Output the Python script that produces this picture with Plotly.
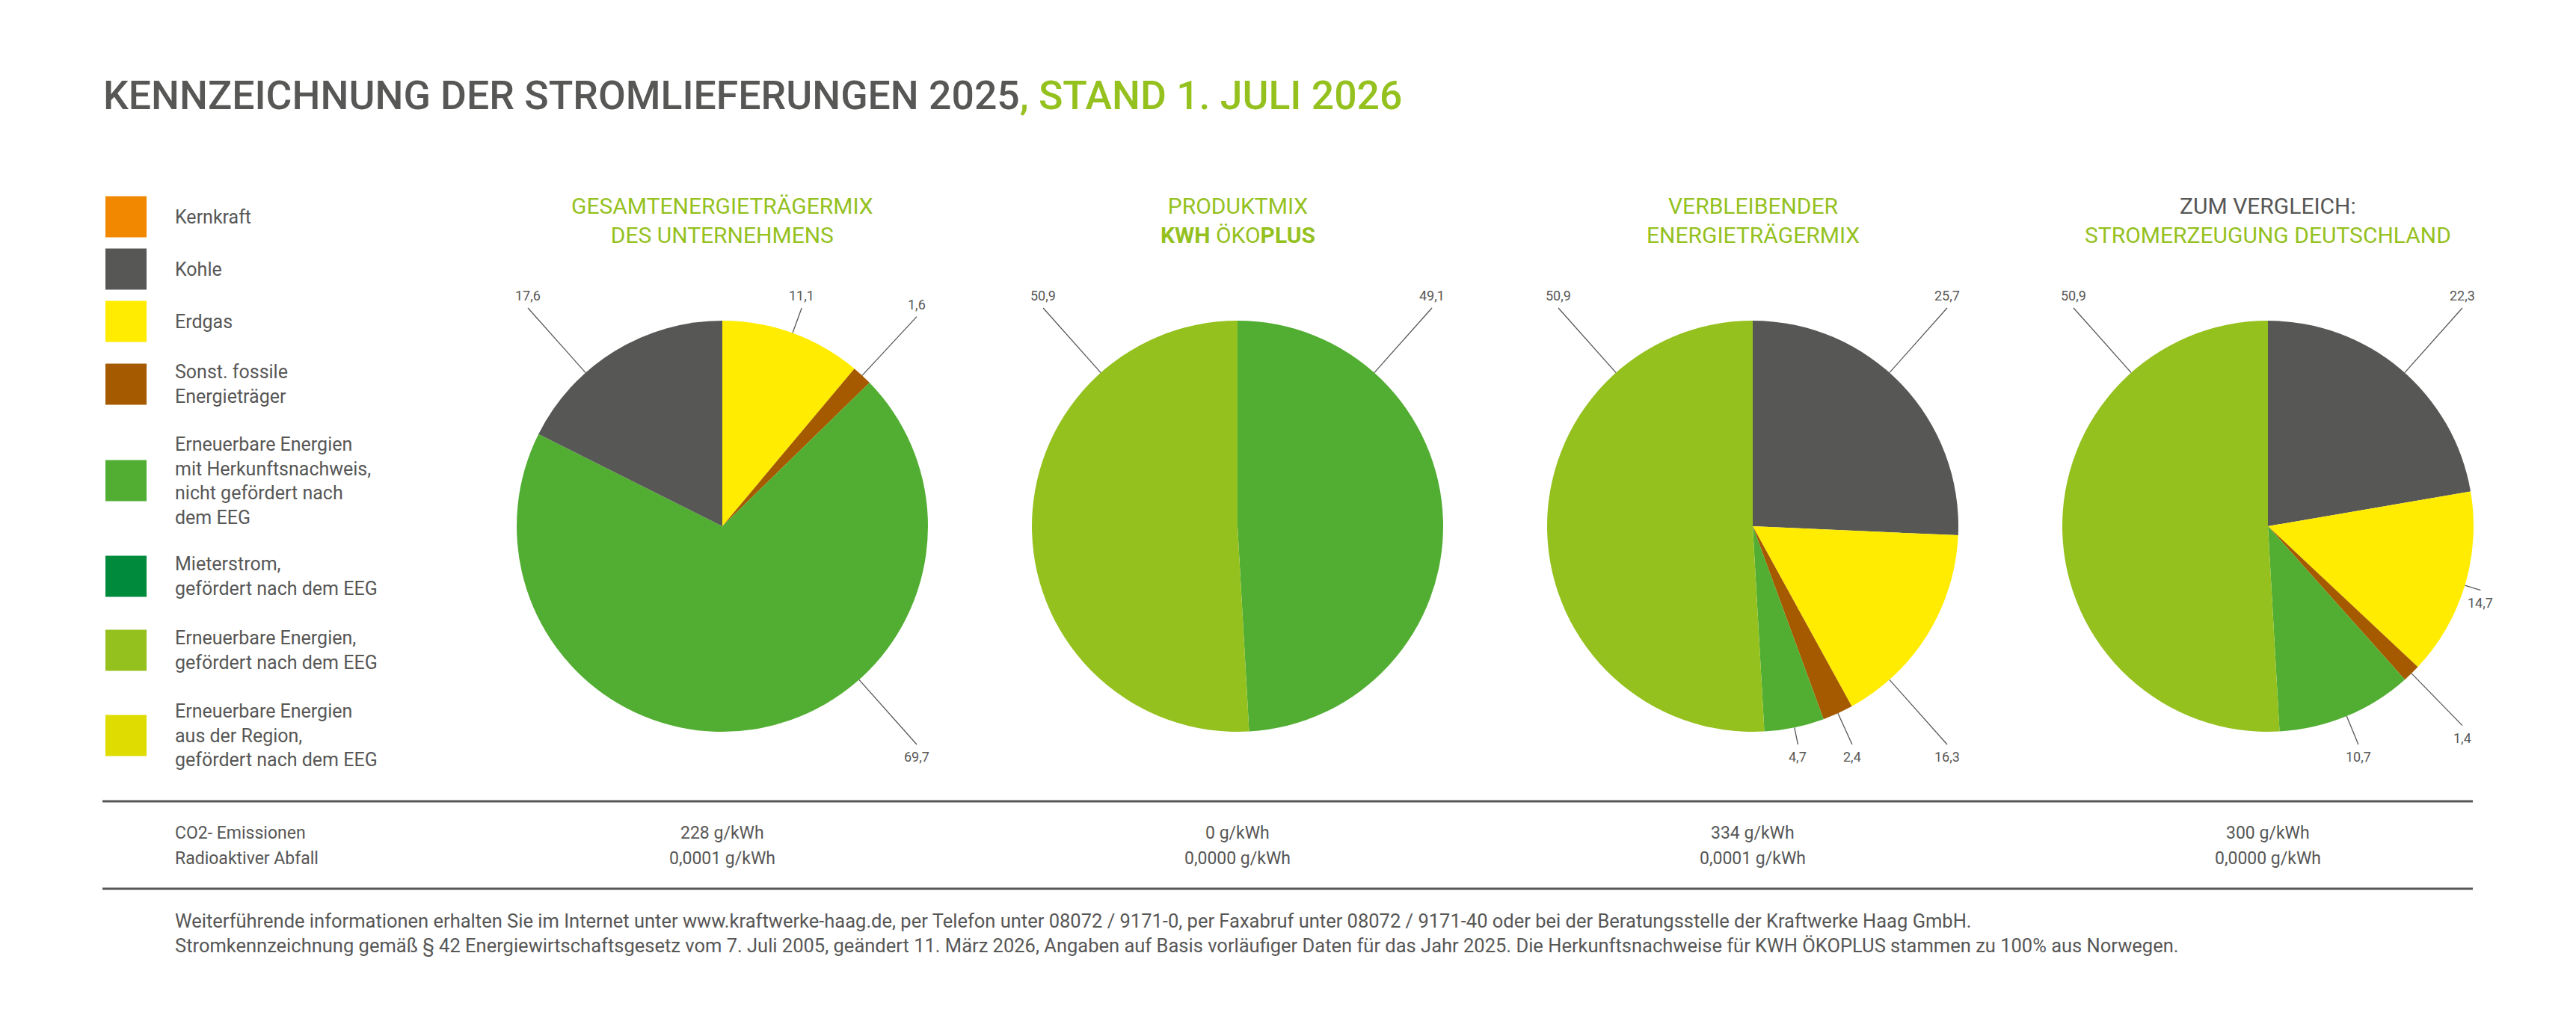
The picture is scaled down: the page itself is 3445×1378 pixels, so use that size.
import math

import plotly.graph_objects as go

W, H = 3445, 1378
OFF = 8  # default page margin of the html body

# ---- data -------------------------------------------------------------
CATEGORIES = [
    "Kernkraft",
    "Kohle",
    "Erdgas",
    "Sonst. fossile Energieträger",
    "Erneuerbare Energien mit Herkunftsnachweis, nicht gefördert nach dem EEG",
    "Mieterstrom, gefördert nach dem EEG",
    "Erneuerbare Energien, gefördert nach dem EEG",
    "Erneuerbare Energien aus der Region, gefördert nach dem EEG",
]
LEGEND_TEXT = [
    "Kernkraft",
    "Kohle",
    "Erdgas",
    "Sonst. fossile<br>Energieträger",
    "Erneuerbare Energien<br>mit Herkunftsnachweis,<br>nicht gefördert nach<br>dem EEG",
    "Mieterstrom,<br>gefördert nach dem EEG",
    "Erneuerbare Energien,<br>gefördert nach dem EEG",
    "Erneuerbare Energien<br>aus der Region,<br>gefördert nach dem EEG",
]

# slices in drawing order (clockwise from 12 o'clock)
GESAMT_LABELS = [CATEGORIES[2], CATEGORIES[3], CATEGORIES[4], CATEGORIES[1]]
GESAMT_VALUES = [11.1, 1.6, 69.7, 17.6]

PRODUKT_LABELS = [CATEGORIES[4], CATEGORIES[6]]
PRODUKT_VALUES = [49.1, 50.9]

REST_LABELS = [CATEGORIES[1], CATEGORIES[2], CATEGORIES[3], CATEGORIES[4], CATEGORIES[6]]
REST_VALUES = [25.7, 16.3, 2.4, 4.7, 50.9]

DE_LABELS = [CATEGORIES[1], CATEGORIES[2], CATEGORIES[3], CATEGORIES[4], CATEGORIES[6]]
DE_VALUES = [22.3, 14.7, 1.4, 10.7, 50.9]

CO2_G_KWH = [228, 0, 334, 300]
RADIOAKTIV_G_KWH = [0.0001, 0.0, 0.0001, 0.0]

# ---- style ------------------------------------------------------------
GREY = "#575756"
GREEN = "#95C11F"
FONT = "Roboto, 'Noto Sans', sans-serif"

COLORS = {
    CATEGORIES[0]: "#F18800",
    CATEGORIES[1]: "#575756",
    CATEGORIES[2]: "#FFEC00",
    CATEGORIES[3]: "#A65A00",
    CATEGORIES[4]: "#52AE32",
    CATEGORIES[5]: "#008A3C",
    CATEGORIES[6]: "#95C11F",
    CATEGORIES[7]: "#DEDC00",
}

PIE_TITLES = [
    "GESAMTENERGIETRÄGERMIX<br>DES UNTERNEHMENS",
    "PRODUKTMIX<br><b>KWH</b> ÖKO<b>PLUS</b>",
    "VERBLEIBENDER<br>ENERGIETRÄGERMIX",
    f"<span style='color:{GREY}'>ZUM VERGLEICH:</span><br>STROMERZEUGUNG DEUTSCHLAND",
]
PIES = [
    (GESAMT_LABELS, GESAMT_VALUES),
    (PRODUKT_LABELS, PRODUKT_VALUES),
    (REST_LABELS, REST_VALUES),
    (DE_LABELS, DE_VALUES),
]

PIE_X0, PIE_DX, PIE_CY, PIE_R = 966, 689, 704, 275
BOX_W, BOX_H = 260, 292  # label box around each pie (leader line ends)
LEGEND_Y = [290, 360, 430, 514, 643, 771, 870, 984]

# corners of the label box, as clockwise angles from 12 o'clock
CORNER = math.degrees(math.atan2(BOX_W, BOX_H))
CORNERS = [360 - CORNER, CORNER, 180 - CORNER, 180 + CORNER]


def de(v, nd):
    return f"{v:.{nd}f}".replace(".", ",")


def label_angles(values):
    """Leader direction per slice: a free box corner inside the slice, else its middle."""
    total = sum(values)
    free = list(CORNERS)
    out = []
    start = 0.0
    for v in values:
        a0, a1 = start / total * 360, (start + v) / total * 360
        start += v
        pick = next((c for c in free if a0 + 3 < c < a1 - 3), None)
        if pick is None:
            out.append((a0 + a1) / 2)
        else:
            free.remove(pick)
            out.append(pick)
    return out


def px(x):
    return (x - OFF) / (W - OFF)


def py(y):
    return 1 - (y - OFF) / (H - OFF)


fig = go.Figure()
annotations = []
line_x, line_y = [], []

for i, (labels, values) in enumerate(PIES):
    cx = PIE_X0 + i * PIE_DX
    fig.add_trace(
        go.Pie(
            labels=labels,
            values=values,
            sort=False,
            direction="clockwise",
            rotation=0,
            textinfo="none",
            hoverinfo="label+value",
            marker=dict(colors=[COLORS[c] for c in labels], line=dict(width=0)),
            showlegend=False,
            domain=dict(
                x=[px(cx - PIE_R), px(cx + PIE_R)],
                y=[py(PIE_CY + PIE_R), py(PIE_CY - PIE_R)],
            ),
        )
    )

    for v, ang in zip(values, label_angles(values)):
        theta = math.radians(ang)
        dx, dy = math.sin(theta), -math.cos(theta)
        tx = BOX_W / abs(dx) if abs(dx) > 1e-9 else math.inf
        ty = BOX_H / abs(dy) if abs(dy) > 1e-9 else math.inf
        d = max(min(tx, ty), PIE_R + 22)
        ex, ey = cx + d * dx, PIE_CY + d * dy
        line_x += [cx + PIE_R * dx, ex, None]
        line_y += [PIE_CY + PIE_R * dy, ey, None]
        annotations.append(dict(
            x=ex, y=ey - 4 if dy < 0 else ey + 4, xanchor="center",
            yanchor="bottom" if dy < 0 else "top",
            text=de(v, 1), font=dict(size=18, color=GREY),
        ))

    annotations.append(dict(x=cx, y=295, text=PIE_TITLES[i], xanchor="center",
                            yanchor="middle", font=dict(size=30, color=GREEN)))
    annotations.append(dict(x=cx, y=1114, text=f"{CO2_G_KWH[i]} g/kWh",
                            font=dict(size=23, color=GREY)))
    annotations.append(dict(x=cx, y=1148, text=f"{de(RADIOAKTIV_G_KWH[i], 4)} g/kWh",
                            font=dict(size=23, color=GREY)))

fig.add_trace(
    go.Scatter(x=line_x, y=line_y, mode="lines", line=dict(color=GREY, width=1.3),
               hoverinfo="skip", showlegend=False)
)

# legend
fig.add_trace(
    go.Scatter(
        x=[168.5] * len(CATEGORIES),
        y=LEGEND_Y,
        mode="markers",
        marker=dict(symbol="square", size=55, color=[COLORS[c] for c in CATEGORIES],
                    line=dict(width=0)),
        text=CATEGORIES,
        hoverinfo="text",
        showlegend=False,
    )
)
for txt, y in zip(LEGEND_TEXT, LEGEND_Y):
    annotations.append(dict(x=232, y=y, text=txt, xanchor="left", yanchor="middle",
                            align="left", font=dict(size=25, color=GREY)))

# headline, emissions, footer
annotations.append(dict(
    x=136, y=127, xanchor="left", yanchor="middle",
    text=f"KENNZEICHNUNG DER STROMLIEFERUNGEN 2025<span style='color:{GREEN}'>, STAND 1. JULI 2026</span>",
    font=dict(size=53.5, color=GREY, weight=500),
))
annotations.append(dict(x=232, y=1114, text="CO2- Emissionen", xanchor="left",
                        font=dict(size=23, color=GREY)))
annotations.append(dict(x=232, y=1148, text="Radioaktiver Abfall", xanchor="left",
                        font=dict(size=23, color=GREY)))
annotations.append(dict(
    x=232, y=1248, xanchor="left", yanchor="middle", align="left",
    text="Weiterführende informationen erhalten Sie im Internet unter www.kraftwerke-haag.de, "
         "per Telefon unter 08072 / 9171-0, per Faxabruf unter 08072 / 9171-40 oder bei der "
         "Beratungsstelle der Kraftwerke Haag GmbH.<br>"
         "Stromkennzeichnung gemäß § 42 Energiewirtschaftsgesetz vom 7. Juli 2005, geändert "
         "11. März 2026, Angaben auf Basis vorläufiger Daten für das Jahr 2025. Die "
         "Herkunftsnachweise für KWH ÖKOPLUS stammen zu 100% aus Norwegen.",
    font=dict(size=25.5, color=GREY),
))

for a in annotations:
    a.setdefault("xref", "x")
    a.setdefault("yref", "y")
    a.setdefault("showarrow", False)

shapes = [
    dict(type="line", xref="x", yref="y", x0=137, x1=3307, y0=y, y1=y,
         line=dict(color=GREY, width=3))
    for y in (1072, 1189)
]

fig.update_layout(
    width=W - OFF,
    height=H - OFF,
    margin=dict(l=0, r=0, t=0, b=0),
    paper_bgcolor="white",
    plot_bgcolor="white",
    font=dict(family=FONT, color=GREY),
    xaxis=dict(range=[OFF, W], visible=False, fixedrange=True),
    yaxis=dict(range=[H, OFF], visible=False, fixedrange=True),
    annotations=annotations,
    shapes=shapes,
)

fig.write_html("out.html")
